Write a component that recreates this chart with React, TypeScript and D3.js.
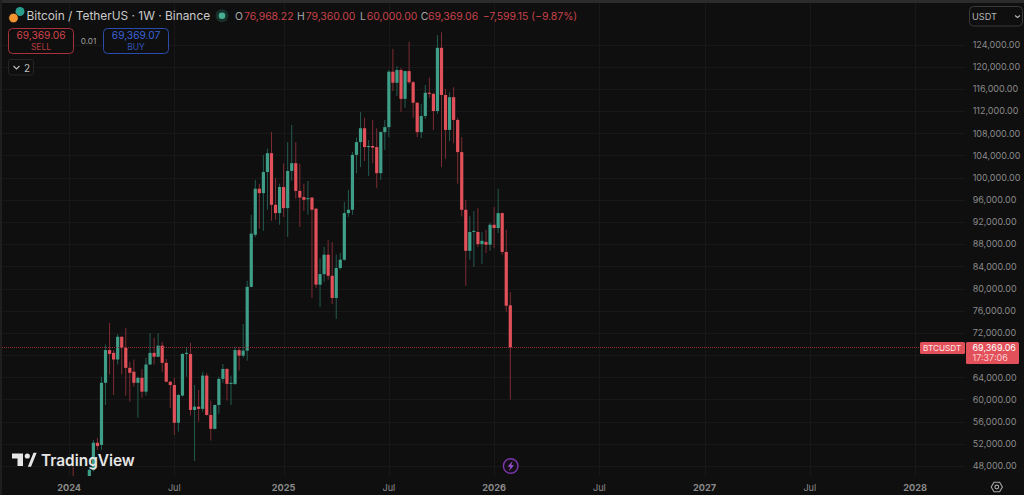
import React from "react";
import * as d3 from "d3";

const opens = [42.3,44.0,41.7,41.6,42.0,42.6,47.3,52.2,51.8,63.0,68.9,68.4,67.2,71.3,69.3,65.7,65.0,63.0,63.9,61.4,66.3,68.4,67.7,69.7,66.6,63.2,62.6,55.8,60.7,68.2,68.2,58.1,58.7,58.3,64.3,57.2,54.7,59.0,63.7,65.5,62.8,62.8,68.9,67.9,68.8,80.3,89.7,98.0,97.2,101.0,104.4,95.1,93.6,98.3,94.5,101.2,102.6,97.6,96.5,96.1,96.4,94.4,80.7,82.6,86.1,82.3,78.3,83.7,85.2,93.6,94.2,104.1,106.4,108.9,105.5,105.7,105.5,100.8,108.2,109.1,119.1,117.1,119.4,114.2,119.2,117.2,113.5,108.2,111.1,115.3,115.1,112.0,123.4,114.9,108.6,114.5,110.4,104.6,94.2,86.8,90.2,90.2,88.0,88.4,87.9,91.5,90.9,93.6,86.6,76.97];
const highs = [45.9,47.9,43.0,42.8,43.9,47.5,52.7,53.1,64.1,69.9,73.8,68.9,71.8,71.4,72.9,66.8,67.2,64.1,65.5,67.5,72.0,71.1,72.0,70.4,67.3,63.3,63.9,61.0,68.4,69.5,70.2,62.6,61.7,65.0,64.8,59.8,59.1,64.1,66.4,65.6,64.3,69.5,69.5,73.6,81.4,93.3,99.6,98.9,104.1,105.2,108.2,99.9,98.9,102.6,106.4,109.5,106.4,102.5,98.9,99.4,96.5,94.5,85.4,87.5,88.8,88.4,86.1,86.4,95.6,97.8,104.6,107.2,111.8,110.8,106.8,110.4,108.9,108.4,110.4,119.4,123.2,120.1,119.8,119.3,124.5,117.4,113.6,113.3,116.7,118.0,115.3,125.7,126.2,116.0,115.4,116.3,110.8,107.3,96.0,93.1,94.0,94.5,90.2,90.6,91.8,94.7,98.0,93.7,90.6,79.36];
const lows = [40.8,41.5,40.5,38.5,41.9,42.0,47.0,50.9,50.9,59.0,64.5,60.8,66.3,64.5,60.7,59.6,62.3,56.7,60.3,60.7,66.2,66.3,67.6,65.0,63.1,58.5,53.6,54.2,60.5,64.1,57.1,48.9,56.0,57.8,57.1,52.6,54.6,57.4,63.0,59.8,59.0,62.6,65.2,67.5,67.0,80.2,89.3,90.8,90.4,94.2,92.2,92.4,91.5,92.9,89.3,99.4,96.2,91.1,94.0,93.3,78.3,80.1,76.7,81.2,81.6,77.2,74.5,83.4,85.0,92.9,93.3,100.8,101.9,103.0,100.3,102.6,98.1,99.6,105.0,107.3,115.6,114.7,111.8,112.6,116.9,110.8,107.3,107.1,110.6,114.4,108.6,111.5,101.9,103.4,106.6,106.2,98.9,93.0,80.5,85.2,83.9,87.5,84.4,86.4,86.8,87.3,90.0,86.1,75.8,60.0];
const closes = [44.0,41.7,41.6,42.0,42.6,47.3,52.2,51.6,63.0,68.9,68.2,67.2,71.3,69.3,65.7,64.8,63.0,63.9,61.4,66.3,68.4,67.7,69.7,66.6,63.2,62.6,55.8,60.8,68.2,68.4,58.1,58.7,58.3,64.3,57.2,54.7,59.0,63.7,65.5,62.8,63.0,68.9,67.9,68.8,80.3,89.9,98.0,97.2,101.0,104.4,95.1,93.6,98.3,94.5,101.2,102.6,97.6,96.4,96.0,96.3,94.2,80.7,82.6,86.1,82.3,78.3,83.7,85.2,93.6,94.2,104.1,106.4,108.9,105.5,105.7,105.4,100.8,108.2,109.1,119.1,117.1,119.4,114.2,119.2,117.2,113.5,108.2,111.1,115.3,115.1,112.0,123.4,114.9,108.6,114.5,110.4,104.6,94.2,86.8,90.2,90.4,88.0,88.6,87.9,91.5,90.9,93.6,86.6,76.9,69.369];

const priceTicks = [48,52,56,60,64,68,72,76,80,84,88,92,96,100,104,108,112,116,120,124];
const hiddenPriceTicks = [68];
const timeTicks = [
  ["2024", "2024-01-01", true], ["Jul", "2024-07-01", false], ["2025", "2025-01-06", true],
  ["Jul", "2025-07-07", false], ["2026", "2026-01-05", true], ["Jul", "2026-07-06", false],
  ["2027", "2027-01-04", true], ["Jul", "2027-07-05", false], ["2028", "2028-01-03", true],
] as [string, string, boolean][];
const lastPrice = 69.36906;
const ohlcLabels = [["O", "76,968.22"], ["H", "79,360.00"], ["L", "60,000.00"], ["C", "69,369.06"]];

const W = 1024, H = 495, PLOT_B = 476, PLOT_R = 965;
const BG = "#0f0f0f", GRID = "#181818", AXIS = "#8a8a8a";
const UP = "#3f9e88", DOWN = "#e2505a", UPW = "#235c50", DOWNW = "#7d2c33";
const FONT = "Inter, 'Noto Sans', sans-serif";
const DAY = 864e5;
const ohlcKeyX = [235, 297, 360, 420.7];
const ohlcValX = [244, 305.7, 366.7, 428];

export default function App() {
  const start = new Date("2024-01-01T00:00:00Z");
  const x = d3.scaleUtc().domain([start, new Date("2026-02-02T00:00:00Z")]).range([69.1, 510.3]);
  const y = d3.scaleLinear().domain([48, 124]).range([466, 44.5]);
  const candleDate = (i: number) => new Date(start.getTime() + i * 7 * DAY);
  const fmt = d3.format(",.2f");
  const ly = Math.round(y(lastPrice)) + 0.5;

  return (
    <svg width={W} height={H} style={{ position: "fixed", left: 0, top: 0, display: "block", background: BG }} fontFamily={FONT}>
      <defs>
        <clipPath id="plot"><rect x={0} y={3} width={PLOT_R} height={PLOT_B - 3} /></clipPath>
      </defs>
      <rect x={0} y={0} width={W} height={3} fill="#2b2b2b" />
      <rect x={0} y={0} width={2} height={H} fill="#1f1f1f" />
      <g stroke={GRID} strokeWidth={1}>
        {priceTicks.map((p) => <line key={p} x1={2} x2={PLOT_R} y1={Math.round(y(p)) + 0.5} y2={Math.round(y(p)) + 0.5} />)}
        {timeTicks.map(([l, d]) => {
          const tx = Math.round(x(new Date(d + "T00:00:00Z"))) + 0.5;
          return <line key={d} x1={tx} x2={tx} y1={3} y2={PLOT_B} />;
        })}
      </g>
      <g clipPath="url(#plot)">
        {opens.map((o, i) => {
          const c = closes[i], up = c >= o, cx = x(candleDate(i));
          const top = y(Math.max(o, c)), bot = y(Math.min(o, c));
          return (
            <g key={i}>
              <line x1={cx} x2={cx} y1={y(highs[i])} y2={y(lows[i])} stroke={up ? UPW : DOWNW} strokeWidth={1} />
              <rect x={cx - 1.6} width={3.2} y={top} height={Math.max(bot - top, 1)} fill={up ? UP : DOWN} />
            </g>
          );
        })}
      </g>
      <line x1={2} x2={920} y1={ly} y2={ly} stroke="#8f3038" strokeWidth={1} strokeDasharray="1 1" />

      {/* price axis */}
      <g fontSize={9} fill={AXIS}>
        {priceTicks.filter((p) => !hiddenPriceTicks.includes(p)).map((p) => (
          <text key={p} x={972.7} y={y(p) + 3.3}>{fmt(p * 1000)}</text>
        ))}
      </g>
      <rect x={920} y={342} width={45} height={12} rx={1.5} fill={DOWN} />
      <text x={923} y={351} fontSize={8.2} fill="#ffe9ea">BTCUSDT</text>
      <rect x={966} y={342} width={53} height={22} rx={1.5} fill={DOWN} />
      <text x={972.5} y={351} fontSize={9} fill="#fff">{fmt(lastPrice * 1000)}</text>
      <text x={972.5} y={361} fontSize={9} fill="#ffd0d3">17:37:06</text>

      {/* time axis */}
      <g fontSize={9.2} fill={AXIS} textAnchor="middle">
        {timeTicks.map(([l, d, bold]) => (
          <text key={d} x={x(new Date(d + "T00:00:00Z"))} y={490.5} fontWeight={bold ? 700 : 400}>{l}</text>
        ))}
      </g>

      {/* header */}
      <circle cx={20} cy={11.5} r={4.5} fill="#2a9d8f" />
      <circle cx={13.5} cy={18} r={4.8} fill="#f2932f" stroke={BG} strokeWidth={0.8} />
      <text x={26.5} y={20} fontSize={11.9} fill="#c9c9c9">Bitcoin / TetherUS · 1W · Binance</text>
      <circle cx={222} cy={15.7} r={6.5} fill="#173029" />
      <circle cx={222} cy={15.7} r={3.3} fill="#46b095" />
      <g fontSize={10.4}>
        {ohlcLabels.map(([k, v], i) => (
          <g key={k}>
            <text x={ohlcKeyX[i]} y={20} fill="#a8a8a8">{k}</text>
            <text x={ohlcValX[i]} y={20} fill="#c8424a">{v}</text>
          </g>
        ))}
        <text x={482.7} y={20} fill="#c8424a">−7,599.15 (−9.87%)</text>
      </g>

      {/* trade buttons */}
      <rect x={8.5} y={28.5} width={65} height={25} rx={4} fill={BG} stroke="#a8323b" />
      <text x={41} y={39} fontSize={10.2} fill="#d2444d" textAnchor="middle">69,369.06</text>
      <text x={41} y={49.7} fontSize={8.5} fill="#b5383f" textAnchor="middle">SELL</text>
      <text x={88.5} y={44} fontSize={8.2} fill="#a0a0a0" textAnchor="middle">0.01</text>
      <rect x={103.5} y={28.5} width={65} height={25} rx={4} fill={BG} stroke="#2a4bab" />
      <text x={136} y={39} fontSize={10.2} fill="#3a63d6" textAnchor="middle">69,369.07</text>
      <text x={136} y={49.7} fontSize={8.5} fill="#2f52b5" textAnchor="middle">BUY</text>
      <rect x={8.5} y={59.5} width={25} height={15.5} rx={2.5} fill={BG} stroke="#262626" />
      <path d="M13.5 66 L16.5 69 L19.5 66" fill="none" stroke="#bdbdbd" strokeWidth={1.1} />
      <text x={27} y={71.5} fontSize={10} fill="#bdbdbd" textAnchor="middle">2</text>

      {/* currency selector */}
      <rect x={969.5} y={6.5} width={53} height={19.5} rx={4} fill={BG} stroke="#3a3a3a" />
      <text x={972} y={20} fontSize={9.2} fill="#b5b5b5">USDT</text>
      <path d="M1015 15.5 L1017.5 17.5 L1020 15.5" fill="none" stroke="#b5b5b5" strokeWidth={1.1} />

      {/* watermark */}
      <g fill="#e6e6e6">
        <path d="M12 453.5 H23 V466 H17.5 V458.5 H12 Z" />
        <circle cx={27.3} cy={456} r={2.6} />
        <path d="M29 466 L34 453.5 H35.5 L35.5 453.5 L30.5 466 Z" stroke="#e6e6e6" strokeWidth={1.6} />
        <text x={41} y={465.5} fontSize={15.4} fontWeight={600}>TradingView</text>
      </g>

      {/* event marker */}
      <circle cx={510.7} cy={466} r={7.3} fill="#151018" stroke="#7d36ad" strokeWidth={1.4} />
      <path d="M512.6 461 L507.6 466.8 H510.4 L509 471 L514 465.2 H511.2 Z" fill="#9a4fd0" />

      {/* settings gear */}
      <path d="M991.2 487 L994 482.2 H999.6 L1002.4 487 L999.6 491.8 H994 Z" fill="none" stroke="#a8a8a8" strokeWidth={1.1} />
      <circle cx={996.8} cy={487} r={1.9} fill="none" stroke="#a8a8a8" strokeWidth={1.1} />
    </svg>
  );
}
